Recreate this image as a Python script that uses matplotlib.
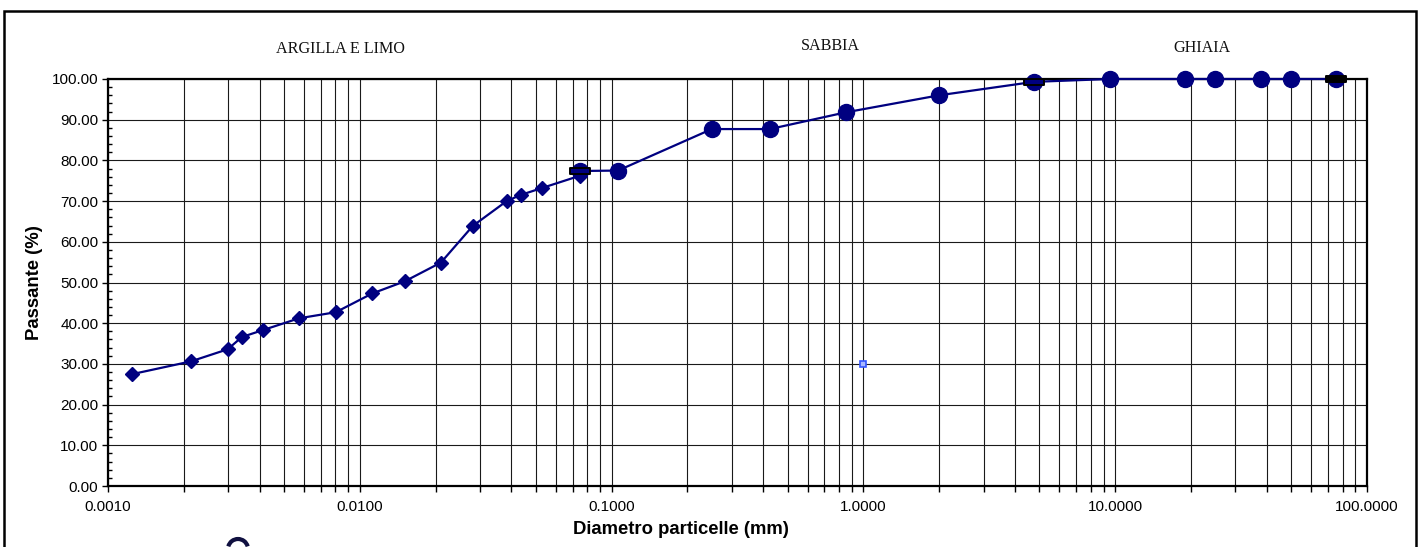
import matplotlib
matplotlib.use("Agg")
import matplotlib.pyplot as plt
from matplotlib.path import Path
from matplotlib.patches import Rectangle, Arc
from matplotlib.ticker import FixedLocator, FixedFormatter, NullFormatter
import numpy as np

# ---- data ----
hyd_d = [0.00125, 0.00213, 0.00299, 0.0034, 0.00412, 0.00573, 0.00803, 0.0112,
         0.0151, 0.0210, 0.0281, 0.0383, 0.0435, 0.0528, 0.0746]
hyd_p = [27.5, 30.6, 33.6, 36.6, 38.3, 41.2, 42.7, 47.3, 50.3, 54.9, 63.9,
         70.0, 71.5, 73.2, 76.2]

sieve_d = [0.075, 0.106, 0.25, 0.425, 0.85, 2.0, 4.75, 9.5, 19.0, 25.0, 38.1, 50.0, 75.0]
sieve_p = [77.4, 77.5, 87.7, 87.7, 91.8, 96.0, 99.3, 100.0, 100.0, 100.0, 100.0, 100.0, 100.0]

bound_d = [0.075, 4.75]
bound_p = [77.4, 99.3]
end_d = [75.0]
end_p = [100.0]

ref_d = [1.0]
ref_p = [30.0]

x_major = [0.001, 0.01, 0.1, 1.0, 10.0, 100.0]
x_labels = ["0.0010", "0.0100", "0.1000", "1.0000", "10.0000", "100.0000"]
y_major = [0, 10, 20, 30, 40, 50, 60, 70, 80, 90, 100]
y_labels = ["%.2f" % v for v in y_major]

zones = ["ARGILLA E LIMO", "SABBIA", "GHIAIA"]

# ---- figure ----
W, H = 1424, 547
fig = plt.figure(figsize=(W / 100, H / 100), dpi=100)
plt.rcParams['font.family'] = ['Liberation Sans', 'DejaVu Sans']

ax = fig.add_axes([108 / W, 1 - 486 / H, (1367 - 108) / W, (486 - 79) / H])
ax.set_xscale('log')
ax.set_xlim(0.001, 100)
ax.set_ylim(0, 100)

minor_x = []
for dec in [0.001, 0.01, 0.1, 1, 10]:
    for k in range(2, 10):
        minor_x.append(dec * k)
ax.xaxis.set_major_locator(FixedLocator(x_major))
ax.xaxis.set_major_formatter(FixedFormatter(x_labels))
ax.xaxis.set_minor_locator(FixedLocator(minor_x))
ax.xaxis.set_minor_formatter(NullFormatter())
ax.yaxis.set_major_locator(FixedLocator(y_major))
ax.yaxis.set_major_formatter(FixedFormatter(y_labels))
ax.yaxis.set_minor_locator(FixedLocator(list(range(0, 101, 2))))

ax.grid(True, which='major', axis='both', color='#1a1a1a', lw=0.8)
ax.grid(True, which='minor', axis='x', color='#1a1a1a', lw=0.8)
ax.set_axisbelow(True)

ax.tick_params(axis='x', which='both', direction='out', length=4, width=1,
               labelsize=11, pad=6, color='black')
ax.tick_params(axis='y', which='major', direction='out', length=4, width=1,
               labelsize=11, pad=3, color='black')
ax.tick_params(axis='y', which='minor', direction='in', length=3, width=1, color='black')

for s in ax.spines.values():
    s.set_linewidth(1.6)
    s.set_color('black')

navy = '#000080'
ax.plot(hyd_d, hyd_p, color=navy, lw=1.6, marker='D', ms=6.8, mfc=navy, mec=navy,
        zorder=4, clip_on=False)
ax.plot(sieve_d, sieve_p, color=navy, lw=1.6, marker='o', ms=11.5, mfc=navy, mec=navy,
        zorder=4, clip_on=False)

bar = Path([(-1, -0.25), (1, -0.25), (1, 0.25), (-1, 0.25), (-1, -0.25)],
           [Path.MOVETO, Path.LINETO, Path.LINETO, Path.LINETO, Path.CLOSEPOLY])
ax.plot(bound_d, bound_p, ls='none', marker=bar, ms=14.5, mfc=navy, mec='black',
        mew=1.4, zorder=5, clip_on=False)
ax.plot(end_d, end_p, ls='none', marker=bar, ms=14.5, mfc='black', mec='black',
        mew=1.4, zorder=5, clip_on=False)
ax.plot(ref_d, ref_p, ls='none', marker='s', ms=4.5, mfc='#a8b8ff', mec='#3355ff',
        mew=1.2, zorder=5)

ax.set_xlabel("Diametro particelle (mm)", fontsize=13.3, fontweight='bold', labelpad=5)
ax.xaxis.label.set_x((681 - 108) / (1367 - 108))
ax.set_ylabel("Passante (%)", fontsize=13.3, fontweight='bold', labelpad=6)

zone_px = [(340, 49), (830, 46), (1202, 47.5)]
for name, (px, py) in zip(zones, zone_px):
    fig.text(px / W, 1 - py / H, name, ha='center', va='center', fontsize=11.6,
             family=['Liberation Serif', 'DejaVu Serif'], color='#111111')

frame = Rectangle((4 / W, -0.1), (1415.5 - 4) / W, 1.1 - 11 / H, transform=fig.transFigure,
                  fill=False, lw=1.8, edgecolor='black', clip_on=False)
fig.patches.append(frame)

logo = Arc((238 / W, 1 - 549 / H), 20 / W, 20 / H, theta1=35, theta2=145,
           transform=fig.transFigure, lw=3, color='#101040')
fig.patches.append(logo)

fig.savefig("out.png", dpi=100)
